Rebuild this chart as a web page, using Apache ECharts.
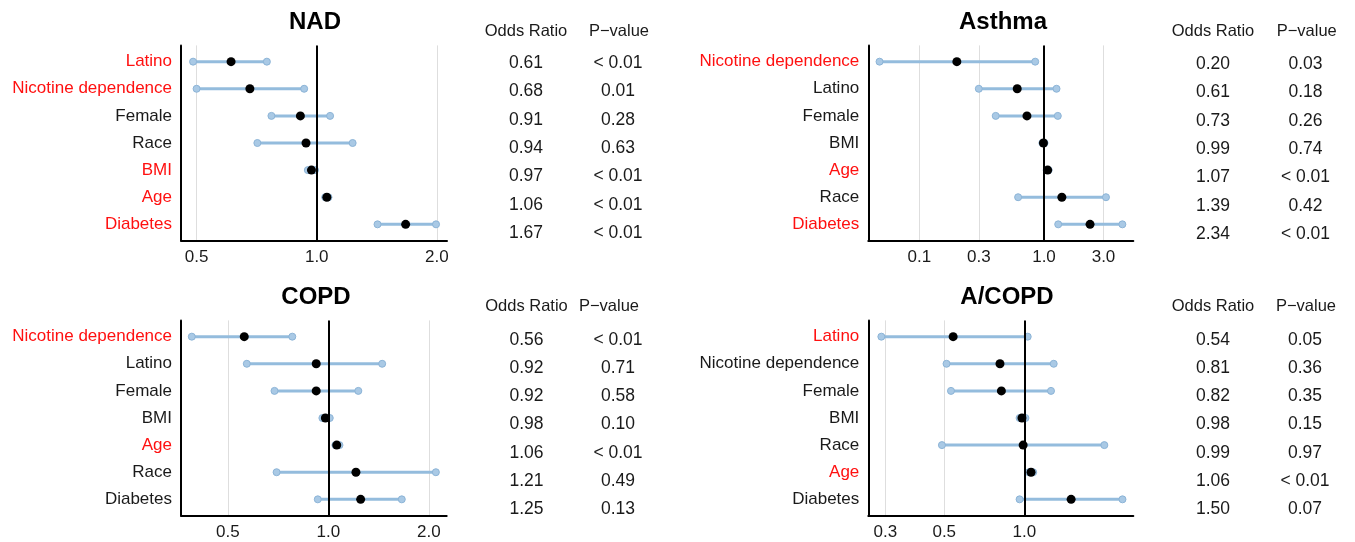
<!DOCTYPE html>
<html>
<head>
<meta charset="utf-8">
<script src="https://cdn.jsdelivr.net/npm/echarts@6/dist/echarts.min.js"></script>
<style>
html,body{margin:0;padding:0;background:#fff;}
#chart{width:1355px;height:542px;}
</style>
</head>
<body>
<div id="chart"></div>
<script>
// ---------- DATA ----------
const nadLabels = ['Latino','Nicotine dependence','Female','Race','BMI','Age','Diabetes'];
const nadRed    = [1,1,0,0,1,1,1];
const nadOR     = [0.61,0.68,0.91,0.94,0.97,1.06,1.67];
const nadLo     = [0.49,0.50,0.77,0.71,0.95,1.05,1.42];
const nadHi     = [0.75,0.93,1.08,1.23,0.99,1.07,1.99];
const nadP      = ['< 0.01','0.01','0.28','0.63','< 0.01','< 0.01','< 0.01'];
const nadTicks  = [0.5,1,2];

const asthmaLabels = ['Nicotine dependence','Latino','Female','BMI','Age','Race','Diabetes'];
const asthmaRed    = [1,0,0,0,1,0,1];
const asthmaOR     = [0.20,0.61,0.73,0.99,1.07,1.39,2.34];
const asthmaLo     = [0.048,0.30,0.41,0.97,1.05,0.62,1.30];
const asthmaHi     = [0.85,1.26,1.29,1.01,1.09,3.14,4.25];
const asthmaP      = ['0.03','0.18','0.26','0.74','< 0.01','0.42','< 0.01'];
const asthmaTicks  = [0.1,0.3,1,3];

const copdLabels = ['Nicotine dependence','Latino','Female','BMI','Age','Race','Diabetes'];
const copdRed    = [1,0,0,0,1,0,0];
const copdOR     = [0.56,0.92,0.92,0.98,1.06,1.21,1.25];
const copdLo     = [0.39,0.57,0.69,0.96,1.05,0.70,0.93];
const copdHi     = [0.78,1.45,1.23,1.01,1.08,2.10,1.66];
const copdP      = ['< 0.01','0.71','0.58','0.10','< 0.01','0.49','0.13'];
const copdTicks  = [0.5,1,2];

const acopdLabels = ['Latino','Nicotine dependence','Female','BMI','Race','Age','Diabetes'];
const acopdRed    = [1,0,0,0,0,1,0];
const acopdOR     = [0.54,0.81,0.82,0.98,0.99,1.06,1.50];
const acopdLo     = [0.29,0.51,0.53,0.96,0.49,1.04,0.96];
const acopdHi     = [1.03,1.29,1.26,1.01,2.00,1.08,2.34];
const acopdP      = ['0.05','0.36','0.35','0.15','0.97','< 0.01','0.07'];
const acopdTicks  = [0.3,0.5,1];

const titles = ['NAD','Asthma','COPD','A/COPD'];
const tableHeaders = ['Odds Ratio','P\u2212value'];

// ---------- LAYOUT ----------
const FONT = '"Liberation Sans", Arial, Helvetica, sans-serif';
const panels = [
  {labels:nadLabels, red:nadRed, or:nadOR, lo:nadLo, hi:nadHi, p:nadP, ticks:nadTicks,
   grid:{left:181, top:45.4, width:266, height:195.2}, xmin:0.457, xmax:2.12,
   title:{x:315, y:22}, tab:{orX:526, pHX:619, pX:618, hY:31.7, y0:63.3, step:28.3}},
  {labels:asthmaLabels, red:asthmaRed, or:asthmaOR, lo:asthmaLo, hi:asthmaHi, p:asthmaP, ticks:asthmaTicks,
   grid:{left:868.3, top:45.4, width:265, height:195.2}, xmin:0.039, xmax:5.2,
   title:{x:1003, y:22}, tab:{orX:1213, pHX:1306.7, pX:1305.5, hY:31.7, y0:64.3, step:28.3}},
  {labels:copdLabels, red:copdRed, or:copdOR, lo:copdLo, hi:copdHi, p:copdP, ticks:copdTicks,
   grid:{left:181, top:320.4, width:265.7, height:195.2}, xmin:0.362, xmax:2.263,
   title:{x:316, y:297}, tab:{orX:526.5, pHX:609, pX:618, hY:306.7, y0:340, step:28.2}},
  {labels:acopdLabels, red:acopdRed, or:acopdOR, lo:acopdLo, hi:acopdHi, p:acopdP, ticks:acopdTicks,
   grid:{left:868.3, top:320.4, width:265, height:195.2}, xmin:0.259, xmax:2.57,
   title:{x:1007, y:297}, tab:{orX:1213, pHX:1306, pX:1305, hY:306.7, y0:340, step:28.2}}
];

const grids = [], xAxes = [], yAxes = [], series = [], graphics = [];

function ciRender(params, api) {
  const y = api.value(2);
  const p1 = api.coord([api.value(0), y]);
  const p2 = api.coord([api.value(1), y]);
  const endStyle = {fill:'#a9c9e5', stroke:'#8cb4d7', lineWidth:1};
  return {type:'group', children:[
    {type:'line', shape:{x1:p1[0], y1:p1[1], x2:p2[0], y2:p2[1]}, style:{stroke:'#94bcdd', lineWidth:3}},
    {type:'circle', shape:{cx:p1[0], cy:p1[1], r:3.5}, style:endStyle},
    {type:'circle', shape:{cx:p2[0], cy:p2[1], r:3.5}, style:endStyle}
  ]};
}

panels.forEach((pn, k) => {
  grids.push(Object.assign({containLabel:false}, pn.grid));
  xAxes.push({
    type:'log', logBase:10, gridIndex:k, min:pn.xmin, max:pn.xmax,
    axisLine:{show:true, onZero:false, lineStyle:{color:'#000', width:2}},
    axisTick:{show:false, customValues:pn.ticks},
    axisLabel:{customValues:pn.ticks, formatter:v => Number(v).toFixed(1),
      color:'#1a1a1a', fontSize:17, fontFamily:FONT, margin:8},
    splitLine:{show:true, lineStyle:{color:'#dedede', width:1}},
    minorTick:{show:false}, minorSplitLine:{show:false}
  });
  const labels = pn.labels, red = pn.red;
  const rowIdx = labels.map((_, i) => i);
  yAxes.push({
    type:'value', gridIndex:k, inverse:true, min:-0.6, max:labels.length - 0.4,
    axisLine:{show:true, onZero:false, lineStyle:{color:'#000', width:2}},
    axisTick:{show:false, customValues:rowIdx}, splitLine:{show:false},
    axisLabel:{
      customValues:rowIdx,
      margin:9, fontSize:17, fontFamily:FONT,
      formatter:v => {
        const i = Math.round(v);
        if (Math.abs(v - i) > 1e-6 || i < 0 || i >= labels.length) return '';
        return (red[i] ? '{r|' : '{k|') + labels[i] + '}';
      },
      rich:{r:{color:'#ff1010', fontSize:17, fontFamily:FONT}, k:{color:'#1a1a1a', fontSize:17, fontFamily:FONT}}
    }
  });
  series.push({
    type:'custom', xAxisIndex:k, yAxisIndex:k, z:3, silent:true,
    renderItem:ciRender, encode:{x:[0,1], y:2},
    data: labels.map((_, i) => [pn.lo[i], pn.hi[i], i])
  });
  series.push({
    type:'line', xAxisIndex:k, yAxisIndex:k, z:4, data:[], silent:true,
    markLine:{silent:true, symbol:['none','none'], label:{show:false},
      lineStyle:{color:'#000', width:2, type:'solid'}, data:[{xAxis:1}], animation:false}
  });
  series.push({
    type:'scatter', xAxisIndex:k, yAxisIndex:k, z:5, silent:true,
    symbol:'circle', symbolSize:9, itemStyle:{color:'#000', opacity:1},
    data: labels.map((_, i) => [pn.or[i], i])
  });
  // title
  graphics.push({type:'text', style:{text:titles[k], x:pn.title.x, y:pn.title.y,
    textAlign:'center', textVerticalAlign:'middle', font:'bold 24px ' + FONT, fill:'#000'}});
  // table
  const t = pn.tab;
  graphics.push({type:'text', style:{text:tableHeaders[0], x:t.orX, y:t.hY,
    textAlign:'center', textVerticalAlign:'middle', font:'16.5px ' + FONT, fill:'#1a1a1a'}});
  graphics.push({type:'text', style:{text:tableHeaders[1], x:t.pHX, y:t.hY,
    textAlign:'center', textVerticalAlign:'middle', font:'16.5px ' + FONT, fill:'#1a1a1a'}});
  pn.or.forEach((v, i) => {
    graphics.push({type:'text', style:{text:v.toFixed(2), x:t.orX, y:t.y0 + i * t.step,
      textAlign:'center', textVerticalAlign:'middle', font:'17.5px ' + FONT, fill:'#1a1a1a'}});
    graphics.push({type:'text', style:{text:pn.p[i], x:t.pX, y:t.y0 + i * t.step,
      textAlign:'center', textVerticalAlign:'middle', font:'17.5px ' + FONT, fill:'#1a1a1a'}});
  });
});

const chart = echarts.init(document.getElementById('chart'), null, {renderer:'canvas'});
chart.setOption({
  animation:false,
  backgroundColor:'#fff',
  grid:grids, xAxis:xAxes, yAxis:yAxes, series:series,
  graphic:{elements:graphics}
});
</script>
</body>
</html>
